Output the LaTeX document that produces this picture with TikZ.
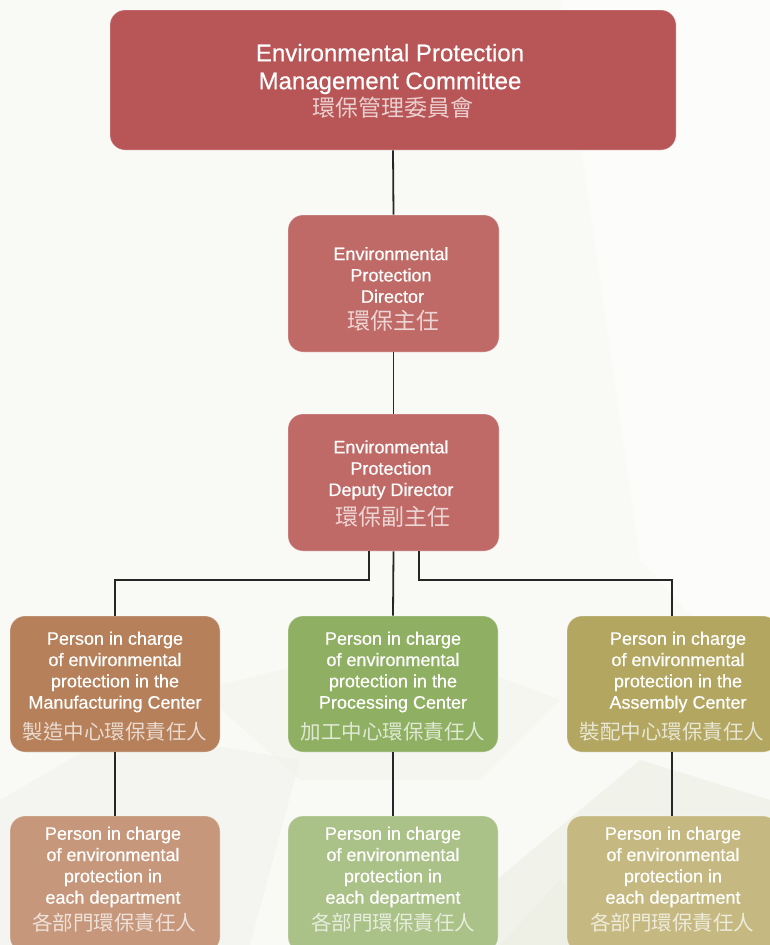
\documentclass[tikz,border=0pt]{standalone}
\usepackage{fontspec}
\setmainfont{Liberation Sans}[FakeBold=0.5]
\newfontfamily\cjk{Noto Sans CJK TC}
\definecolor{bgc}{HTML}{F9F9F6}
\definecolor{bgg}{HTML}{EDF0E5}
\definecolor{bgw}{HTML}{FCFCFA}
\definecolor{topc}{HTML}{B85556}
\definecolor{dirc}{HTML}{BF6A66}
\definecolor{mfgc}{HTML}{B5805A}
\definecolor{proc}{HTML}{8FB063}
\definecolor{asmc}{HTML}{B2A661}
\definecolor{mfgl}{HTML}{C6977B}
\definecolor{prol}{HTML}{AAC188}
\definecolor{asml}{HTML}{C5B981}
\definecolor{linec}{HTML}{262626}
\tikzset{
  box/.style={draw=white, draw opacity=0.35, line width=0.8pt, rounded corners=15pt, inner sep=0pt},
  entext/.style={text=white, align=center, inner sep=0pt, font=\fontsize{18}{21.3}\selectfont},
  bigtext/.style={text=white, align=center, inner sep=0pt, font=\fontsize{24}{28}\selectfont},
  zhtext/.style={text=white, text opacity=0.72, inner sep=0pt, font=\cjk\fontsize{20.5}{24}\selectfont},
  zhbig/.style={text=white, text opacity=0.72, inner sep=0pt, font=\cjk\fontsize{23}{27}\selectfont},
  conn/.style={draw=linec, line width=1.8pt}
}
\begin{document}
\begin{tikzpicture}[x=1pt,y=-1pt]
\useasboundingbox (0,0) rectangle (770,945);
\clip (0,0) rectangle (770,945);
% background
\fill[bgc] (0,0) rectangle (770,945);
\fill[bgw] (560,0) -- (770,0) -- (770,700) -- (640,560) -- cycle;
\fill[bgg, opacity=0.35] (0,945) -- (0,800) -- (120,730) -- (300,760) -- (250,945) -- cycle;
\fill[bgg, opacity=0.6] (420,945) -- (520,860) -- (640,760) -- (770,800) -- (770,945) -- cycle;
\fill[bgg, opacity=0.3] (200,690) -- (400,640) -- (560,700) -- (480,780) -- (300,780) -- cycle;
\fill[bgg, opacity=0.7] (500,945) -- (560,880) -- (640,945) -- cycle;

% boxes
\node[box, fill=topc, minimum width=566pt, minimum height=140pt] (top) at (393,80) {};
\node[box, fill=dirc, minimum width=211pt, minimum height=137pt] (dir) at (393.5,283.5) {};
\node[box, fill=dirc, minimum width=211pt, minimum height=137pt] (dep) at (393.5,482.5) {};
\node[box, fill=mfgc, minimum width=210pt, minimum height=136pt] (mfg) at (115,684) {};
\node[box, fill=proc, minimum width=210pt, minimum height=136pt] (pro) at (393,684) {};
\node[box, fill=asmc, minimum width=211pt, minimum height=136pt] (asm) at (672.5,684) {};
\node[box, fill=mfgl, minimum width=210pt, minimum height=136pt] (mfgd) at (115,884) {};
\node[box, fill=prol, minimum width=210pt, minimum height=136pt] (prod) at (393,884) {};
\node[box, fill=asml, minimum width=211pt, minimum height=136pt] (asmd) at (672.5,884) {};

% connectors
\draw[conn] (top.south) -- (dir.north);
\draw[conn] (dir.south) -- (dep.north);
\draw[conn] ([xshift=-24.5pt]dep.south) |- (115,580) -- (mfg.north);
\draw[conn] (dep.south) -- (pro.north);
\draw[conn] ([xshift=25.5pt]dep.south) |- (672,580) -- ([xshift=-0.5pt]asm.north);
\draw[conn] (mfg.south) -- (mfgd.north);
\draw[conn] (pro.south) -- (prod.north);
\draw[conn] ([xshift=-0.5pt]asm.south) -- ([xshift=-0.5pt]asmd.north);

% texts
\node[bigtext] (topen) at (390,69) {Environmental Protection\\ Management Committee};
\node[zhbig] (topzh) at (393,108) {環保管理委員會};

\node[entext] (diren) at (391,275) {Environmental\\ Protection\\ \,Director};
\node[zhbig] (dirzh) at (393,321) {環保主任};

\node[entext] (depen) at (391,470) {Environmental\\ Protection\\ Deputy Director};
\node[zhbig] (depzh) at (393,517) {環保副主任};

\node[entext] (mfgen) at (115,672) {Person in charge\\ of environmental\\ protection in the\\ Manufacturing Center};
\node[zhtext] (mfgzh) at (115,732) {製造中心環保責任人};
\node[entext] (proen) at (393,672) {Person in charge\\ of environmental\\ protection in the\\ Processing Center};
\node[zhtext] (prozh) at (393,732) {加工中心環保責任人};
\node[entext] (asmen) at (678,672) {Person in charge\\ of environmental\\ protection in the\\ Assembly Center};
\node[zhtext] (asmzh) at (672,732) {裝配中心環保責任人};

\node[entext] (mfgden) at (113,867) {Person in charge\\ of environmental\\ protection in\\ each department};
\node[zhtext] (mfgdzh) at (114,923) {各部門環保責任人};
\node[entext] (prodden) at (393,867) {Person in charge\\ of environmental\\ protection in\\ each department};
\node[zhtext] (prodzh) at (393,923) {各部門環保責任人};
\node[entext] (asmden) at (673,867) {Person in charge\\ of environmental\\ protection in\\ each department};
\node[zhtext] (asmdzh) at (672,923) {各部門環保責任人};
\end{tikzpicture}
\end{document}
